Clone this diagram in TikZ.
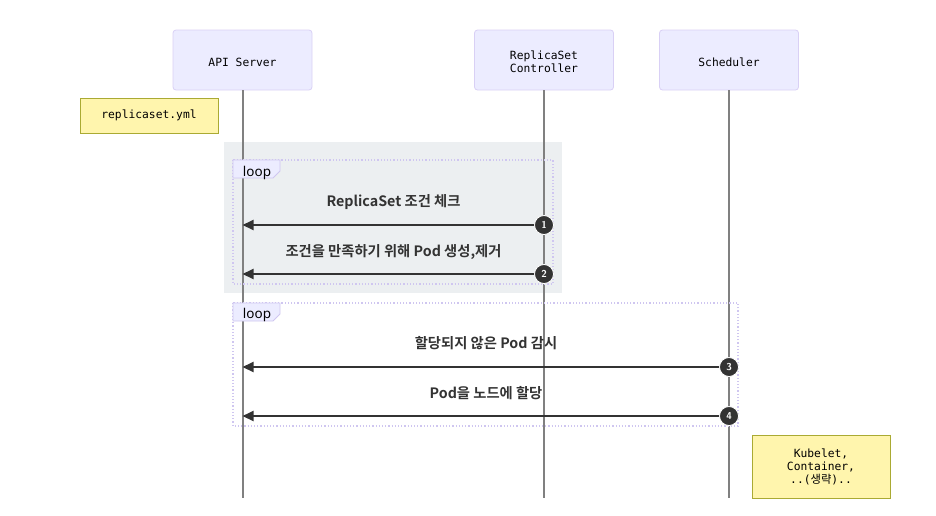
\documentclass[tikz,border=0pt]{standalone}
\usepackage{fontspec}
\setmainfont{Noto Sans}
\newfontfamily\monofont{DejaVu Sans Mono}
\newfontfamily\krfont{Noto Sans CJK KR}[BoldFont={Noto Sans CJK KR Bold}]
\newfontfamily\krmono{Noto Sans CJK KR}
\usetikzlibrary{arrows.meta}
\definecolor{actorfill}{HTML}{ECECFF}
\definecolor{actorline}{HTML}{D9D0F5}
\definecolor{notefill}{HTML}{FFF5AD}
\definecolor{noteline}{HTML}{AAAA33}
\definecolor{loopline}{HTML}{CFC6F0}
\definecolor{loopbg}{HTML}{ECEFF1}
\definecolor{msgcol}{HTML}{333333}
\definecolor{lifecol}{HTML}{808080}
\tikzset{
  x=1pt, y=-1pt,
  actorbox/.style={draw=actorline, fill=actorfill, rounded corners=3pt, minimum width=139pt, minimum height=60pt, line width=0.8pt, inner sep=0pt},
  actortext/.style={align=center, font=\monofont\fontsize{11.3}{12.5}\selectfont, inner sep=0pt},
  notebox/.style={draw=noteline, fill=notefill, minimum width=138pt, line width=0.8pt, align=center, font=\monofont\fontsize{11.3}{13}\selectfont, inner sep=0pt},
  lifeline/.style={draw=lifecol, line width=2pt},
  msgarrow/.style={draw=msgcol, line width=2pt, -{Triangle[length=11pt,width=10pt]}},
  msgtext/.style={font=\krfont\bfseries\fontsize{14.3}{16}\selectfont, text=msgcol},
  numdot/.style={circle, fill=msgcol, draw=white, line width=0.8pt, minimum size=19pt, inner sep=0pt, text=white, font=\sffamily\bfseries\fontsize{10}{10}\selectfont},
  loopframe/.style={draw=loopline, dotted, line width=1.2pt},
  looplabel/.style={font=\fontsize{13.5}{14}\selectfont, text=black}
}
\begin{document}
\begin{tikzpicture}
\useasboundingbox (0,0) rectangle (936,515);
% loop 1 background
\fill[loopbg] (224,142) rectangle (562,293);
% actors
\node[actorbox] (api) at (242.5,60) {};
\node[actortext] (apit) at (242.5,62) {API Server};
\node[actorbox] (rsc) at (544,60) {};
\node[actortext] (rsct) at (544,62) {ReplicaSet\\Controller};
\node[actorbox] (sch) at (729,60) {};
\node[actortext] (scht) at (729,62) {Scheduler};
\coordinate (apiend) at (242.5,498);
\coordinate (rscend) at (544,498);
\coordinate (schend) at (729,498);
\draw[lifeline] (api.south) -- (apiend);
\draw[lifeline] (rsc.south) -- (rscend);
\draw[lifeline] (sch.south) -- (schend);
% notes
\node[notebox, minimum height=35pt] (n1) at (149,115.5) {replicaset.yml};
\node[notebox, minimum height=63pt] (n2) at (821,466.5) {Kubelet,\\Container,\\..({\krmono 생략})..};
% loop 1
\draw[loopframe] (233,160) rectangle (553,284);
\draw[draw=loopline, fill=actorfill, line width=0.8pt] (233,160) -- (280,160) -- (280,171) -- (273,178) -- (233,178) -- cycle;
\node[looplabel] (l1) at (257,172.5) {loop};
% loop 2
\draw[loopframe] (233,303) rectangle (738,426);
\draw[draw=loopline, fill=actorfill, line width=0.8pt] (233,303) -- (280,303) -- (280,314) -- (273,321) -- (233,321) -- cycle;
\node[looplabel] (l2) at (257,315) {loop};
% message 1
\coordinate (m1s) at (544,225);
\coordinate (m1e) at (242.5,225);
\node[msgtext] (t1) at (393.5,202) {ReplicaSet 조건 체크};
\draw[msgarrow] (m1s) -- (m1e);
\node[numdot] (d1) at (m1s) {1};
% message 2
\coordinate (m2s) at (544,274);
\coordinate (m2e) at (242.5,274);
\node[msgtext] (t2) at (393.5,252) {조건을 만족하기 위해 Pod 생성,제거};
\draw[msgarrow] (m2s) -- (m2e);
\node[numdot] (d2) at (m2s) {2};
% message 3
\coordinate (m3s) at (729,367);
\coordinate (m3e) at (242.5,367);
\node[msgtext] (t3) at (486,343) {할당되지 않은 Pod 감시};
\draw[msgarrow] (m3s) -- (m3e);
\node[numdot] (d3) at (m3s) {3};
% message 4
\coordinate (m4s) at (729,416);
\coordinate (m4e) at (242.5,416);
\node[msgtext] (t4) at (486,393) {Pod을 노드에 할당};
\draw[msgarrow] (m4s) -- (m4e);
\node[numdot] (d4) at (m4s) {4};
\end{tikzpicture}
\end{document}
